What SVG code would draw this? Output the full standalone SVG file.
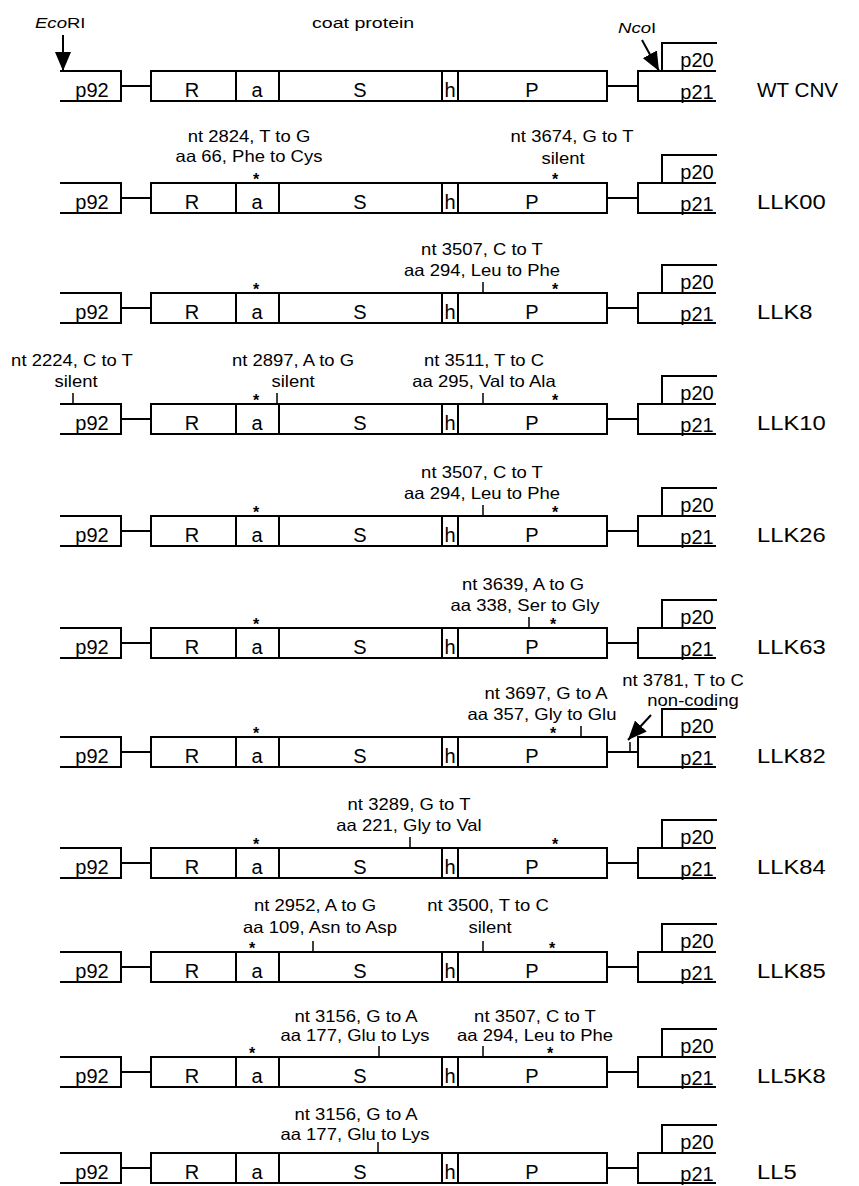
<svg xmlns="http://www.w3.org/2000/svg" width="859" height="1186" viewBox="0 0 859 1186">
<style>
.ln{fill:none;stroke:#000;stroke-width:2}
.box{fill:#fff;stroke:#000;stroke-width:2}
.tk{stroke:#000;stroke-width:1.5}
.in{font-family:"Liberation Sans",Arial,sans-serif;font-size:20px;fill:#000;text-anchor:middle}
.ann{font-family:"Liberation Sans",Arial,sans-serif;font-size:16.5px;fill:#000;text-anchor:middle}
.lab{font-family:"Liberation Sans",Arial,sans-serif;font-size:19.5px;fill:#000}
.top{font-family:"Liberation Sans",Arial,sans-serif;font-size:14.5px;fill:#000}
.st{font-family:"Liberation Sans",Arial,sans-serif;font-size:16px;font-weight:bold;fill:#000;text-anchor:middle}
</style>
<defs>
<marker id="ah" viewBox="0 0 19 16" refX="19" refY="8" markerWidth="19" markerHeight="16" markerUnits="userSpaceOnUse" orient="auto"><path d="M0,0L19,8L0,16z" fill="#000"/></marker>
<g id="gene">
<path class="ln" d="M60,0H121V30H60"/>
<rect class="box" x="151" y="0" width="456" height="30"/>
<path class="ln" d="M236,0V30M279,0V30M442,0V30M458,0V30"/>
<path class="ln" d="M716,0H638V30H716M662,0V-28H717"/>
<text class="in" x="92" y="26">p92</text>
<text class="in" x="192" y="26">R</text>
<text class="in" x="257" y="26">a</text>
<text class="in" x="360" y="26">S</text>
<text class="in" x="450" y="26">h</text>
<text class="in" x="532" y="26">P</text>
<text class="in" x="697" y="-4">p20</text>
<text class="in" x="697" y="28">p21</text>
</g>
<path id="lk" class="ln" d="M121,15H151M607,15H638"/>
</defs>

<g id="connectors">
<use href="#lk" y="71"/><use href="#lk" y="183"/><use href="#lk" y="293"/><use href="#lk" y="404"/>
<use href="#lk" y="516"/><use href="#lk" y="628"/><use href="#lk" y="737"/><use href="#lk" y="848"/>
<use href="#lk" y="952"/><use href="#lk" y="1057"/><use href="#lk" y="1153"/>
<line class="ln" x1="63" y1="35" x2="63" y2="71" marker-end="url(#ah)"/>
<line class="ln" x1="642" y1="40" x2="659" y2="71" marker-end="url(#ah)"/>
<line class="ln" x1="651" y1="715" x2="628" y2="740" marker-end="url(#ah)"/>
</g>

<g id="row-WT" transform="translate(0,71)">
<use href="#gene"/>
<text class="lab" transform="translate(757,26) scale(1.06,1)">WT CNV</text>
<text class="top" transform="translate(35,-43) scale(1.28,1)"><tspan font-style="italic">Eco</tspan>RI</text>
<text class="top" transform="translate(312,-43) scale(1.35,1)">coat protein</text>
<text class="top" transform="translate(618,-38) scale(1.28,1)"><tspan font-style="italic">Nco</tspan>I</text>
</g>

<g id="row-LLK00" transform="translate(0,183)">
<use href="#gene"/>
<text class="lab" transform="translate(757,26) scale(1.22,1)">LLK00</text>
<text class="ann" transform="translate(249,-41) scale(1.12,1)">nt 2824, T to G</text>
<text class="ann" transform="translate(249,-21) scale(1.12,1)">aa 66, Phe to Cys</text>
<text class="st" x="256" y="1.5">*</text>
<text class="ann" transform="translate(572,-41) scale(1.12,1)">nt 3674, G to T</text>
<text class="ann" transform="translate(563,-19) scale(1.12,1)">silent</text>
<text class="st" x="555" y="1.5">*</text>
</g>

<g id="row-LLK8" transform="translate(0,293)">
<use href="#gene"/>
<text class="lab" transform="translate(757,26) scale(1.22,1)">LLK8</text>
<text class="st" x="256" y="1.5">*</text>
<text class="ann" transform="translate(482,-38) scale(1.12,1)">nt 3507, C to T</text>
<text class="ann" transform="translate(482,-17) scale(1.12,1)">aa 294, Leu to Phe</text>
<line class="tk" x1="483" y1="-11" x2="483" y2="0"/>
<text class="st" x="555" y="1.5">*</text>
</g>

<g id="row-LLK10" transform="translate(0,404)">
<use href="#gene"/>
<text class="lab" transform="translate(757,26) scale(1.22,1)">LLK10</text>
<text class="ann" transform="translate(72,-38) scale(1.12,1)">nt 2224, C to T</text>
<text class="ann" transform="translate(76,-17) scale(1.12,1)">silent</text>
<line class="tk" x1="73" y1="-11" x2="73" y2="-1"/>
<text class="ann" transform="translate(293,-38) scale(1.12,1)">nt 2897, A to G</text>
<text class="ann" transform="translate(293,-17) scale(1.12,1)">silent</text>
<line class="tk" x1="277" y1="-11" x2="277" y2="0"/>
<text class="st" x="256" y="1.5">*</text>
<text class="ann" transform="translate(484,-38) scale(1.12,1)">nt 3511, T to C</text>
<text class="ann" transform="translate(484,-17) scale(1.12,1)">aa 295, Val to Ala</text>
<line class="tk" x1="483" y1="-11" x2="483" y2="0"/>
<text class="st" x="555" y="1.5">*</text>
</g>

<g id="row-LLK26" transform="translate(0,516)">
<use href="#gene"/>
<text class="lab" transform="translate(757,26) scale(1.22,1)">LLK26</text>
<text class="st" x="256" y="1.5">*</text>
<text class="ann" transform="translate(482,-38) scale(1.12,1)">nt 3507, C to T</text>
<text class="ann" transform="translate(482,-17) scale(1.12,1)">aa 294, Leu to Phe</text>
<line class="tk" x1="483" y1="-11" x2="483" y2="0"/>
<text class="st" x="555" y="1.5">*</text>
</g>

<g id="row-LLK63" transform="translate(0,628)">
<use href="#gene"/>
<text class="lab" transform="translate(757,26) scale(1.22,1)">LLK63</text>
<text class="st" x="256" y="1.5">*</text>
<text class="ann" transform="translate(523,-38) scale(1.12,1)">nt 3639, A to G</text>
<text class="ann" transform="translate(525,-17) scale(1.12,1)">aa 338, Ser to Gly</text>
<line class="tk" x1="529" y1="-11" x2="529" y2="0"/>
<text class="st" x="553" y="1.5">*</text>
</g>

<g id="row-LLK82" transform="translate(0,737)">
<use href="#gene"/>
<text class="lab" transform="translate(757,26) scale(1.22,1)">LLK82</text>
<text class="st" x="256" y="1.5">*</text>
<text class="ann" transform="translate(546,-38) scale(1.12,1)">nt 3697, G to A</text>
<text class="ann" transform="translate(542,-17) scale(1.12,1)">aa 357, Gly to Glu</text>
<text class="st" x="553" y="1.5">*</text>
<line class="tk" x1="581" y1="-11" x2="581" y2="0"/>
<text class="ann" transform="translate(683,-51) scale(1.12,1)">nt 3781, T to C</text>
<text class="ann" transform="translate(693,-31) scale(1.12,1)">non-coding</text>
<line class="tk" x1="630" y1="5" x2="630" y2="15"/>
</g>

<g id="row-LLK84" transform="translate(0,848)">
<use href="#gene"/>
<text class="lab" transform="translate(757,26) scale(1.22,1)">LLK84</text>
<text class="st" x="256" y="1.5">*</text>
<text class="ann" transform="translate(409,-38) scale(1.12,1)">nt 3289, G to T</text>
<text class="ann" transform="translate(409,-17) scale(1.12,1)">aa 221, Gly to Val</text>
<line class="tk" x1="410" y1="-11" x2="410" y2="0"/>
<text class="st" x="555" y="1.5">*</text>
</g>

<g id="row-LLK85" transform="translate(0,952)">
<use href="#gene"/>
<text class="lab" transform="translate(757,26) scale(1.22,1)">LLK85</text>
<text class="ann" transform="translate(315,-41) scale(1.12,1)">nt 2952, A to G</text>
<text class="ann" transform="translate(320,-19) scale(1.12,1)">aa 109, Asn to Asp</text>
<text class="st" x="252" y="1.5">*</text>
<line class="tk" x1="313" y1="-11" x2="313" y2="0"/>
<text class="ann" transform="translate(488,-41) scale(1.12,1)">nt 3500, T to C</text>
<text class="ann" transform="translate(490,-19) scale(1.12,1)">silent</text>
<line class="tk" x1="483" y1="-11" x2="483" y2="0"/>
<text class="st" x="552" y="1.5">*</text>
</g>

<g id="row-LL5K8" transform="translate(0,1057)">
<use href="#gene"/>
<text class="lab" transform="translate(757,26) scale(1.22,1)">LL5K8</text>
<text class="ann" transform="translate(356,-35) scale(1.12,1)">nt 3156, G to A</text>
<text class="ann" transform="translate(355,-16) scale(1.12,1)">aa 177, Glu to Lys</text>
<text class="st" x="252" y="1.5">*</text>
<line class="tk" x1="379" y1="-11" x2="379" y2="0"/>
<text class="ann" transform="translate(535,-35) scale(1.12,1)">nt 3507, C to T</text>
<text class="ann" transform="translate(535,-16) scale(1.12,1)">aa 294, Leu to Phe</text>
<line class="tk" x1="483" y1="-11" x2="483" y2="0"/>
<text class="st" x="550" y="1.5">*</text>
</g>

<g id="row-LL5" transform="translate(0,1153)">
<use href="#gene"/>
<text class="lab" transform="translate(757,26) scale(1.22,1)">LL5</text>
<text class="ann" transform="translate(356,-33) scale(1.12,1)">nt 3156, G to A</text>
<text class="ann" transform="translate(355,-13) scale(1.12,1)">aa 177, Glu to Lys</text>
<line class="tk" x1="378" y1="-11" x2="378" y2="0"/>
</g>
</svg>
